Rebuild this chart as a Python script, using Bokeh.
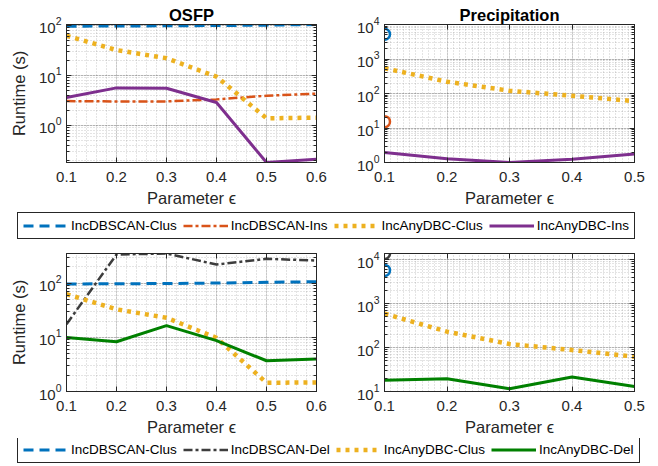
import numpy as np
from bokeh.plotting import figure
from bokeh.models import (Range1d, FixedTicker, LogTicker, PrintfTickFormatter, Legend,
                          LegendItem, LinearAxis, LogAxis)
from bokeh.layouts import column, row
from bokeh.embed import file_html
from bokeh.resources import INLINE

# ---------------- data ----------------
eps_osfp = [0.1, 0.2, 0.3, 0.4, 0.5, 0.6]
eps_prec = [0.1, 0.2, 0.3, 0.4, 0.5]
eps_single = [0.1]

# insertion (top row)
osfp_incdbscan_clus = [96, 97, 98, 99, 101, 104]
osfp_incdbscan_ins = [3.05, 3.0, 3.0, 3.3, 3.9, 4.3]
osfp_incanydbc_clus = [62, 32, 22, 9.4, 1.38, 1.42]
osfp_incanydbc_ins = [3.6, 5.6, 5.5, 2.85, 0.18, 0.21]

prec_incdbscan_clus = [5200]
prec_incdbscan_ins = [15.3]
prec_incanydbc_clus = [540, 220, 120, 86, 60]
prec_incanydbc_ins = [1.95, 1.28, 1.0, 1.25, 1.75]

# deletion (bottom row)
osfp_incdbscan_clus_d = [97, 98, 99, 101, 104, 107]
osfp_incdbscan_del = [17.5, 340, 355, 222, 283, 263]
osfp_incanydbc_clus_d = [63, 33, 23, 9.8, 1.45, 1.47]
osfp_incanydbc_del = [10, 8.3, 16.5, 8.7, 3.7, 4.0]

prec_incdbscan_clus_d = [5700]
prec_incdbscan_del = [13800]
prec_incanydbc_clus_d = [590, 230, 120, 88, 62]
prec_incanydbc_del = [18, 19.6, 11.5, 21.4, 13]

x_ticks_osfp = [0.1, 0.2, 0.3, 0.4, 0.5, 0.6]
x_ticks_prec = [0.1, 0.2, 0.3, 0.4, 0.5]

# ---------------- styles ----------------
FONT = "Liberation Sans"
AX = "#262626"
BLUE = dict(line_color="#0072BD", line_width=3, line_dash="10 6")
ORANGE = dict(line_color="#D95319", line_width=2.5, line_dash="9 3 3 3")
YELLOW = dict(line_color="#EDB120", line_width=4.5, line_dash="4 5")
PURPLE = dict(line_color="#7E2F8E", line_width=3)
GRAY = dict(line_color="#3d3d3d", line_width=2.5, line_dash="9 3 3 3")
GREEN = dict(line_color="#008000", line_width=3)


def style_mirror(ax):
    ax.axis_line_color = AX
    ax.major_tick_line_color = AX
    ax.minor_tick_line_color = AX
    ax.major_tick_in = 5
    ax.major_tick_out = 0
    ax.minor_tick_out = 0
    ax.major_label_text_font_size = "0px"
    ax.major_label_standoff = 0
    ax.major_label_text_alpha = 0


def make_fig(width, height, left, right, top, bottom, xr, yr, xticks, minor_step,
             title=None, ylabel=None):
    kw = dict(width=width, height=height, x_range=Range1d(*xr), y_range=Range1d(*yr),
              y_axis_type="log", toolbar_location=None, output_backend="svg",
              min_border_left=left, min_border_right=right,
              min_border_top=top, min_border_bottom=bottom)
    if title is None:
        kw["title_location"] = None
    p = figure(**kw)
    if title is not None:
        p.title.text = title
        p.title.align = "center"
        p.title.text_font = FONT
        p.title.text_font_size = "16.5px"
        p.title.text_font_style = "bold"
        p.title.text_color = "black"
        p.title.standoff = 2
        p.title.offset = 0
    minor = list(np.round(np.arange(xr[0], xr[1] + 1e-9, minor_step), 4))
    p.xaxis.ticker = FixedTicker(ticks=xticks, minor_ticks=minor)
    p.xaxis.formatter = PrintfTickFormatter(format="%.1f")
    p.yaxis.ticker = LogTicker(num_minor_ticks=10)
    for ax in (p.xaxis, p.yaxis):
        ax.axis_line_color = AX
        ax.major_tick_line_color = AX
        ax.minor_tick_line_color = AX
        ax.major_tick_in = 5
        ax.major_tick_out = 0
        ax.minor_tick_out = 0
        ax.major_label_text_font = FONT
        ax.major_label_text_font_size = "15px"
        ax.major_label_text_color = AX
        ax.axis_label_text_font = FONT
        ax.axis_label_text_font_size = "16.5px"
        ax.axis_label_text_font_style = "normal"
        ax.axis_label_text_color = AX
    p.xaxis.major_label_standoff = 9
    p.yaxis.major_label_standoff = 5
    p.xaxis.minor_tick_in = 0
    p.yaxis.minor_tick_in = 3
    p.xaxis.axis_label = "Parameter \u03f5"
    p.xaxis.axis_label_standoff = 4
    if ylabel:
        p.yaxis.axis_label = ylabel
        p.yaxis.axis_label_standoff = 8
    # mirrored tick marks on the top and right edges (box on)
    top_ax = LinearAxis(ticker=FixedTicker(ticks=xticks, minor_ticks=[]))
    style_mirror(top_ax)
    top_ax.minor_tick_in = 0
    p.add_layout(top_ax, "above")
    right_ax = LogAxis(ticker=LogTicker(num_minor_ticks=10))
    style_mirror(right_ax)
    right_ax.minor_tick_in = 3
    p.add_layout(right_ax, "right")
    for g in (p.xgrid, p.ygrid):
        g.grid_line_color = AX
        g.grid_line_alpha = 0.15
        g.minor_grid_line_color = AX
        g.minor_grid_line_alpha = 0.25
        g.minor_grid_line_dash = "1 2"
    p.outline_line_color = AX
    p.outline_line_alpha = 1
    p.outline_line_width = 1
    p.background_fill_color = "white"
    return p


def make_legend(specs, width, height, box_left):
    lp = figure(width=width, height=height, toolbar_location=None, output_backend="svg",
                x_axis_type=None, y_axis_type=None, min_border=0, outline_line_color=None,
                x_range=Range1d(0, 1), y_range=Range1d(0, 1), title_location=None)
    items = []
    for label, style in specs:
        r = lp.line(x=[-2, -1], y=[-2, -1], **style)
        items.append(LegendItem(label=label, renderers=[r]))
    box_h = 23
    leg = Legend(items=items, orientation="horizontal",
                 location=(box_left, (height - box_h) // 2),
                 glyph_width=45, glyph_height=13, label_height=13, label_standoff=3,
                 spacing=6, padding=5, margin=0,
                 border_line_color=AX, border_line_width=1, border_line_alpha=1,
                 label_text_font=FONT, label_text_font_size="13.5px",
                 label_text_color="black", background_fill_color="white",
                 background_fill_alpha=1)
    lp.add_layout(leg, "center")
    return lp


# ---------------- top row ----------------
all_top = osfp_incdbscan_clus + osfp_incdbscan_ins + osfp_incanydbc_clus + osfp_incanydbc_ins
p1 = make_fig(350, 209, 66, 34, 24, 47, (0.1, 0.6), (min(all_top), max(all_top)),
              x_ticks_osfp, 0.02, title="OSFP", ylabel="Runtime (s)")
p1.line(eps_osfp, osfp_incdbscan_clus, **BLUE)
p1.line(eps_osfp, osfp_incdbscan_ins, **ORANGE)
p1.line(eps_osfp, osfp_incanydbc_clus, **YELLOW)
p1.line(eps_osfp, osfp_incanydbc_ins, **PURPLE)

p2 = make_fig(302, 209, 34, 18, 24, 47, (0.1, 0.5), (min(prec_incanydbc_ins), 1e4),
              x_ticks_prec, 0.01, title="Precipitation")
p2.line(eps_prec, prec_incanydbc_clus, **YELLOW)
p2.line(eps_prec, prec_incanydbc_ins, **PURPLE)
p2.scatter(eps_single, prec_incdbscan_clus, marker="circle", size=11, fill_color=None,
           line_color="#0072BD", line_width=2.5)
p2.scatter(eps_single, prec_incdbscan_ins, marker="circle", size=11, fill_color=None,
           line_color="#D95319", line_width=2.5)

leg1 = make_legend([("IncDBSCAN-Clus", BLUE), ("IncDBSCAN-Ins", ORANGE),
                    ("IncAnyDBC-Clus", YELLOW), ("IncAnyDBC-Ins", PURPLE)], 652, 37, 17)

# ---------------- bottom row ----------------
p3 = make_fig(350, 192, 66, 34, 7, 47, (0.1, 0.6), (1, max(osfp_incdbscan_del)),
              x_ticks_osfp, 0.02, ylabel="Runtime (s)")
p3.line(eps_osfp, osfp_incdbscan_clus_d, **BLUE)
p3.line(eps_osfp, osfp_incdbscan_del, **GRAY)
p3.line(eps_osfp, osfp_incanydbc_clus_d, **YELLOW)
p3.line(eps_osfp, osfp_incanydbc_del, **GREEN)

p4 = make_fig(302, 192, 34, 18, 7, 47, (0.1, 0.5), (10, max(prec_incdbscan_del)),
              x_ticks_prec, 0.01)
p4.line(eps_prec, prec_incanydbc_clus_d, **YELLOW)
p4.line(eps_prec, prec_incanydbc_del, **GREEN)
p4.scatter(eps_single, prec_incdbscan_del, marker="circle", size=11, fill_color=None,
           line_color="#3d3d3d", line_width=2.5)
p4.scatter(eps_single, prec_incdbscan_clus_d, marker="circle", size=11, fill_color=None,
           line_color="#0072BD", line_width=2.5)

leg2 = make_legend([("IncDBSCAN-Clus", BLUE), ("IncDBSCAN-Del", GRAY),
                    ("IncAnyDBC-Clus", YELLOW), ("IncAnyDBC-Del", GREEN)], 652, 26, 17)

layout = column(row(p1, p2), leg1, row(p3, p4), leg2)

open("out.html", "w").write(file_html(layout, INLINE))
